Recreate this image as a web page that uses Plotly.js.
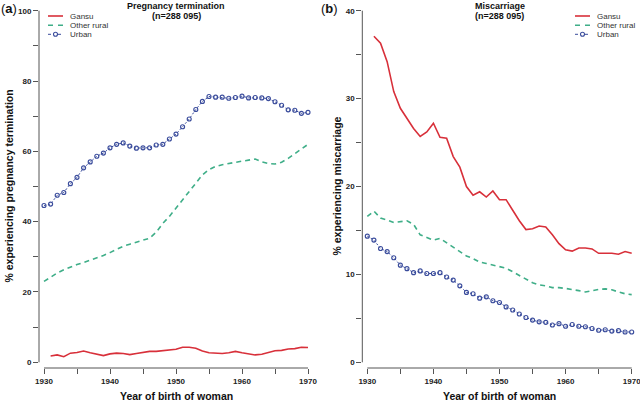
<!DOCTYPE html>
<html>
<head>
<meta charset="utf-8">
<script src="https://cdn.plot.ly/plotly-3.0.1.min.js"></script>
<style>
html,body{margin:0;padding:0;background:#fff;}
#chart{width:640px;height:402px;}
</style>
</head>
<body>
<div id="chart"></div>
<script>
// ---- data ----
var years = [1930,1931,1932,1933,1934,1935,1936,1937,1938,1939,
             1940,1941,1942,1943,1944,1945,1946,1947,1948,1949,
             1950,1951,1952,1953,1954,1955,1956,1957,1958,1959,
             1960,1961,1962,1963,1964,1965,1966,1967,1968,1969,1970];
var seriesNames = ["Gansu", "Other rural", "Urban"];
var xTickYears = [1930, 1940, 1950, 1960, 1970];

// Panel (a): pregnancy termination (%)
var gansuTerm = [null,1.8,2.1,1.6,2.6,2.8,3.2,2.7,2.2,1.9,
                 2.4,2.6,2.5,2.2,2.5,2.8,3.1,3.1,3.3,3.5,
                 3.7,4.3,4.3,4.0,3.2,2.7,2.5,2.5,2.7,3.1,
                 2.7,2.3,2.1,2.3,2.7,3.3,3.4,3.8,3.9,4.3,4.2];
var ruralTerm = [23.0,24.2,25.4,26.3,27.1,27.8,28.4,29.0,29.7,30.4,
                 31.2,32.2,33.0,33.6,34.2,34.7,35.3,37.0,39.5,41.5,
                 43.8,46.2,48.6,51.0,53.3,54.8,55.7,56.2,56.6,56.9,
                 57.2,57.5,57.8,57.0,56.5,56.4,56.9,58.0,59.3,60.8,62.0];
var urbanTerm = [44.6,45.0,47.5,48.3,50.8,52.6,55.3,57.0,58.6,59.5,
                 61.0,62.0,62.4,61.5,60.9,61.0,61.0,61.8,62.0,63.5,
                 64.9,67.0,69.2,71.9,74.2,75.6,75.4,75.4,75.1,75.3,
                 75.7,75.2,75.3,75.2,75.0,74.1,73.1,71.8,71.7,70.8,71.1];

// Panel (b): miscarriage (%)
var gansuMisc = [null,37.1,36.3,34.2,30.8,28.9,27.7,26.6,25.7,26.2,
                 27.2,25.6,25.5,23.4,22.2,20.0,19.0,19.4,18.8,19.5,
                 18.5,18.5,17.3,16.1,15.1,15.2,15.5,15.4,14.5,13.5,
                 12.8,12.65,13.0,13.0,12.9,12.4,12.4,12.4,12.3,12.6,12.4];
var ruralMisc = [16.6,17.2,16.4,16.2,15.9,16.0,16.1,15.7,14.5,14.2,
                 13.9,14.1,13.6,13.1,12.5,12.1,11.8,11.4,11.25,11.05,
                 10.9,10.7,10.3,9.9,9.5,9.05,8.8,8.7,8.5,8.5,
                 8.4,8.3,8.15,8.0,8.15,8.3,8.35,8.25,8.0,7.8,7.7];
var urbanMisc = [14.35,13.9,12.95,12.6,11.9,11.05,10.65,10.2,10.4,10.1,
                 10.1,10.2,9.7,9.35,8.7,7.95,7.8,7.3,7.45,7.0,
                 6.8,6.3,5.95,5.5,5.1,4.8,4.6,4.55,4.25,4.4,
                 4.1,4.3,4.1,4.05,3.85,3.65,3.7,3.55,3.6,3.45,3.45];

// ---- styles ----
var RED = "#d8303a", GREEN = "#3fae88", BLUE = "#3a4c9c";
var AXC = "#555555";
var FONT = "Liberation Sans, Arial, Helvetica, sans-serif";
var W = 640, H = 402;
function px(x){ return x / W; }
function py(y){ return 1 - y / H; }

function mkTraces(g, r, u, xa, ya){
  return [
    {x: years, y: g, name: seriesNames[0], type: "scatter", mode: "lines",
     line: {color: RED, width: 1.6}, xaxis: xa, yaxis: ya, showlegend: false, connectgaps: false},
    {x: years, y: r, name: seriesNames[1], type: "scatter", mode: "lines",
     line: {color: GREEN, width: 1.6, dash: "5px,4px"}, xaxis: xa, yaxis: ya, showlegend: false},
    {x: years, y: u, name: seriesNames[2], type: "scatter", mode: "lines+markers",
     line: {color: BLUE, width: 1, dash: "2px,2px"},
     marker: {symbol: "circle-open", size: 4, color: BLUE, line: {color: BLUE, width: 1.15}},
     cliponaxis: false, xaxis: xa, yaxis: ya, showlegend: false}
  ];
}

var data = mkTraces(gansuTerm, ruralTerm, urbanTerm, "x", "y")
  .concat(mkTraces(gansuMisc, ruralMisc, urbanMisc, "x2", "y2"));

var tickFont = {family: FONT, size: 8, color: "#222", weight: "bold"};
function xAxis(domain, anchor){
  return {domain: domain, anchor: anchor, range: [1929.242, 1970.758],
    tickmode: "array", tickvals: xTickYears, ticks: "outside", ticklen: 5, tickwidth: 1, tickcolor: AXC,
    minor: {tickmode: "linear", tick0: 1930, dtick: 5, ticks: "outside", ticklen: 5, tickwidth: 1, tickcolor: AXC, showgrid: false},
    showline: false, showgrid: false, zeroline: false, tickfont: tickFont, ticklabeloverflow: "allow", fixedrange: true};
}
function yAxis(domain, anchor, range, dtick){
  return {domain: domain, anchor: anchor, range: range,
    tickmode: "linear", tick0: 0, dtick: dtick, ticks: "outside", ticklen: 5, tickwidth: 1, tickcolor: AXC,
    minor: {tickmode: "linear", tick0: 0, dtick: dtick / 2, ticks: "outside", ticklen: 5, tickwidth: 1, tickcolor: AXC, showgrid: false},
    showline: false, showgrid: false, zeroline: false, tickfont: tickFont, ticklabeloverflow: "allow", fixedrange: true};
}

var yDom = [py(368), py(5)];
var layout = {
  width: W, height: H,
  margin: {l: 0, r: 0, t: 0, b: 0},
  paper_bgcolor: "#fff", plot_bgcolor: "#fff",
  showlegend: false,
  font: {family: FONT, color: "#222"},
  xaxis: xAxis([px(39), px(313)], "y"),
  yaxis: yAxis(yDom, "x", [-1.62, 101.62], 20),
  xaxis2: xAxis([px(362.3), px(636.7)], "y2"),
  yaxis2: yAxis(yDom, "x2", [-0.648, 40.648], 10),
  shapes: [],
  annotations: []
};

// R-style axis lines spanning first to last tick
[["x","y",0,100],["x2","y2",0,40]].forEach(function(a){
  layout.shapes.push({type: "line", xref: a[0], yref: a[1] + " domain", x0: 1930, x1: 1970, y0: 0, y1: 0,
    line: {color: AXC, width: 1}});
  layout.shapes.push({type: "line", xref: a[0] + " domain", yref: a[1], x0: 0, x1: 0, y0: a[2], y1: a[3],
    line: {color: AXC, width: 1}});
});

function ann(text, x, y, opts){
  var o = {text: text, xref: "paper", yref: "paper", x: px(x), y: py(y),
    xanchor: "center", yanchor: "middle", showarrow: false,
    font: {family: FONT, size: 9, color: "#222"}};
  for (var k in opts) o[k] = opts[k];
  return o;
}

// panel labels
layout.annotations.push(ann("(<b>a</b>)", -1, 8, {xanchor: "left", font: {family: FONT, size: 13, color: "#111"}}));
layout.annotations.push(ann("(<b>b</b>)", 319, 8, {xanchor: "left", font: {family: FONT, size: 13, color: "#111"}}));
// titles
layout.annotations.push(ann("<b>Pregnancy termination</b>", 176, 6, {font: {family: FONT, size: 9, color: "#111"}}));
layout.annotations.push(ann("<b>(n=288 095)</b>", 176, 16.5, {font: {family: FONT, size: 9, color: "#111"}}));
layout.annotations.push(ann("<b>Miscarriage</b>", 499.5, 6, {font: {family: FONT, size: 9, color: "#111"}}));
layout.annotations.push(ann("<b>(n=288 095)</b>", 499.5, 16.5, {font: {family: FONT, size: 9, color: "#111"}}));
// axis titles
var axTitleFont = {family: FONT, size: 10.5, color: "#111"};
layout.annotations.push(ann("<b>Year of birth of woman</b>", 176, 396, {font: axTitleFont}));
layout.annotations.push(ann("<b>Year of birth of woman</b>", 499.5, 396, {font: axTitleFont}));
layout.annotations.push(ann("<b>% experiencing pregnancy termination</b>", 8, 186.5, {textangle: -90, font: axTitleFont}));
layout.annotations.push(ann("<b>% experiencing miscarriage</b>", 336, 186.5, {textangle: -90, font: axTitleFont}));

// manual compact legends
var legFont = {family: FONT, size: 8, color: "#333"};
function legend(x0, textX, rows){
  var colors = [RED, GREEN, BLUE];
  rows.forEach(function(yy, i){
    if (i === 0) {
      layout.shapes.push({type: "line", xref: "paper", yref: "paper", x0: px(x0), x1: px(x0 + 15), y0: py(yy), y1: py(yy),
        line: {color: colors[i], width: 1.6}});
    } else if (i === 1) {
      layout.shapes.push({type: "line", xref: "paper", yref: "paper", x0: px(x0), x1: px(x0 + 15), y0: py(yy), y1: py(yy),
        line: {color: colors[i], width: 1.6, dash: "5px,5px"}});
    } else {
      layout.shapes.push({type: "line", xref: "paper", yref: "paper", x0: px(x0), x1: px(x0 + 15), y0: py(yy), y1: py(yy),
        line: {color: colors[i], width: 1, dash: "3px,2px"}});
      layout.shapes.push({type: "circle", xref: "paper", yref: "paper", x0: px(x0 + 5.5), x1: px(x0 + 9.5),
        y0: py(yy + 2), y1: py(yy - 2), fillcolor: "#fff", line: {color: colors[i], width: 1.1}});
    }
    layout.annotations.push(ann(seriesNames[i], textX, yy, {xanchor: "left", font: legFont}));
  });
}
legend(48, 68, [16, 25.3, 34.3]);
legend(575, 595, [16, 25.3, 34.3]);

Plotly.newPlot("chart", data, layout, {displayModeBar: false, staticPlot: true});
</script>
</body>
</html>
